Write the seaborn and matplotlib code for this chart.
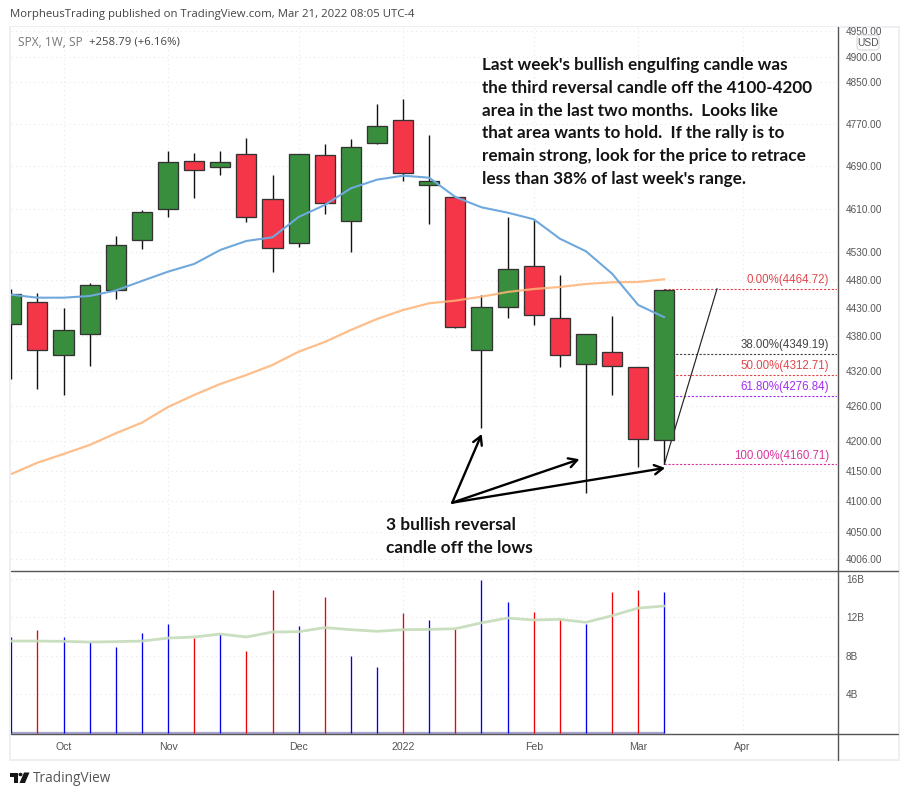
import matplotlib
matplotlib.use("Agg")
import matplotlib.pyplot as plt
import numpy as np
import pandas as pd
import seaborn as sns
from matplotlib.lines import Line2D
from matplotlib.patches import Rectangle, Polygon, Circle, FancyBboxPatch

# ---- data ----
weeks = list(range(26))
opens = [4401.3, 4440.3, 4346.9, 4383.6, 4461.7, 4552.1, 4609.1, 4700.0, 4687.5, 4712.0, 4627.7, 4546.7, 4710.1,
         4587.0, 4732.8, 4776.7, 4653.7, 4631.4, 4355.6, 4431.4, 4505.0, 4411.8, 4331.2, 4352.1, 4326.0, 4201.1]
closes = [4454.6, 4355.6, 4390.7, 4470.7, 4543.0, 4603.6, 4696.8, 4681.8, 4696.8, 4594.3, 4537.6, 4712.0, 4620.2,
          4725.2, 4765.2, 4676.2, 4661.2, 4396.0, 4431.4, 4499.5, 4417.2, 4346.9, 4383.6, 4327.7, 4202.8, 4461.7]
highs = [4464.0, 4456.4, 4430.2, 4474.3, 4560.0, 4607.8, 4718.2, 4714.5, 4718.2, 4742.9, 4673.0, 4712.5, 4731.5,
         4740.5, 4808.0, 4817.7, 4748.6, 4632.0, 4453.3, 4594.9, 4590.7, 4489.2, 4384.0, 4415.9, 4327.0, 4464.72]
lows = [4306.2, 4289.0, 4278.7, 4328.7, 4446.7, 4536.8, 4595.4, 4630.6, 4673.6, 4586.3, 4495.2, 4540.5, 4601.0,
        4531.4, 4732.0, 4661.8, 4582.6, 4395.0, 4222.4, 4412.9, 4400.6, 4327.0, 4113.7, 4278.7, 4156.8, 4160.71]
ma_short = [4453.8, 4448.5, 4448.5, 4451.5, 4461.4, 4478.4, 4495.2, 4509.1, 4534.5, 4550.9, 4557.6, 4594.9, 4617.1,
            4648.1, 4664.2, 4671.7, 4667.9, 4631.9, 4612.8, 4602.9, 4590.7, 4555.1, 4532.1, 4491.6, 4435.5, 4413.7]
ma_long = [4144.6, 4163.5, 4178.0, 4193.2, 4212.9, 4230.9, 4257.6, 4278.2, 4297.1, 4312.6, 4330.0, 4353.1, 4370.1,
           4391.2, 4410.6, 4426.6, 4438.5, 4443.2, 4450.3, 4458.7, 4464.0, 4467.6, 4473.0, 4476.1, 4476.6, 4481.5]
volumes = [9.95, 10.67, 9.95, 9.43, 8.91, 10.36, 11.30, 9.84, 10.26, 8.50, 14.82, 11.09, 14.09,
           7.98, 6.84, 12.44, 11.71, 10.78, 15.85, 13.58, 12.54, 11.81, 11.30, 14.61, 14.82, 14.61]
vol_dirs = ["b", "r", "b", "b", "b", "b", "b", "r", "b", "r", "r", "b", "r",
            "b", "b", "r", "b", "r", "b", "b", "r", "r", "b", "r", "r", "b"]
vol_ma = [9.53, 9.53, 9.50, 9.43, 9.47, 9.53, 9.84, 9.95, 10.26, 9.95, 10.47, 10.50, 10.92,
          10.71, 10.54, 10.71, 10.74, 10.81, 11.42, 11.92, 11.71, 11.78, 11.47, 12.16, 12.95, 13.16]
vol_floor = [0.05] * 26

price_ticks = [4950, 4900, 4850, 4770, 4690, 4610, 4530, 4480, 4430, 4380, 4320, 4260, 4200, 4150, 4100, 4050, 4006]
vol_ticks = [4, 8, 12, 16]
vol_tick_labels = ["4B", "8B", "12B", "16B"]
month_ticks = [2, 6, 11, 15, 20, 24, 28]
month_labels = ["Oct", "Nov", "Dec", "2022", "Feb", "Mar", "Apr"]

fib_levels = ["0.00%", "38.00%", "50.00%", "61.80%", "100.00%"]
fib_prices = [4464.72, 4349.19, 4312.71, 4276.84, 4160.71]
fib_colors = ["#e0474c", "#444444", "#e0474c", "#a32cf0", "#d9359b"]

trend_x = [25, 27.02]
trend_y = [4160.71, 4464.72]
arrow_origin = (16.88, 4097.2)
arrow_targets = [(18.01, 4211.7), (21.75, 4169.2), (25.03, 4154.7)]

note_lines = ["Last week's bullish engulfing candle was",
              "the third reversal candle off the 4100-4200",
              "area in the last two months.  Looks like",
              "that area wants to hold.  If the rally is to",
              "remain strong, look for the price to retrace",
              "less than 38% of last week's range."]
low_lines = ["3 bullish reversal", "candle off the lows"]

# ---- layout ----
W, H = 909, 795
sns.set_theme(style="white", rc={"font.family": "Liberation Sans"})
fig = plt.figure(figsize=(W / 100, H / 100), dpi=100, facecolor="white")


def box(x0, y0, x1, y1):
    return [x0 / W, 1 - y1 / H, (x1 - x0) / W, (y1 - y0) / H]


def fx(x):
    return x / W


def fy(y):
    return 1 - y / H


ax = fig.add_axes(box(11, 27, 837.5, 571))
vax = fig.add_axes(box(11, 571, 837.5, 734), sharex=ax)
XMIN, XMAX = -0.012, 31.63
GRID = dict(color="#e9e9ec", linestyle=(0, (1, 3)), linewidth=0.8)
GREEN, RED, EDGE = "#388e3c", "#f53648", "#333333"
TICK = "#555555"

frame = pd.DataFrame({"week": weeks, "short": ma_short, "long": ma_long, "vol": volumes,
                      "dir": vol_dirs, "volma": vol_ma, "floor": vol_floor})

# ---- price pane ----
ax.set_yscale("log")
ax.vlines(weeks, lows, highs, color="#111111", linewidth=1.0, zorder=2)
ax.plot(trend_x, trend_y, color="#222222", linewidth=0.85, zorder=2)
for w, o, c in zip(weeks, opens, closes):
    ax.bar(w, abs(c - o), bottom=min(o, c), width=0.77, color=GREEN if c >= o else RED,
           edgecolor=EDGE, linewidth=0.95, zorder=3)
sns.lineplot(data=frame, x="week", y="long", ax=ax, color="#fdb377", alpha=0.85, linewidth=1.6,
             errorbar=None, zorder=4)
sns.lineplot(data=frame, x="week", y="short", ax=ax, color="#6fa8dc", linewidth=1.5, errorbar=None, zorder=5)

for lab, price, col in zip(fib_levels, fib_prices, fib_colors):
    ax.hlines(price, 25, XMAX, color=col, linewidth=0.8, linestyle=(0, (2, 1.5)), zorder=1)
    ax.annotate(f"{lab}({price:.2f})", xy=(0.9897, price), xycoords=ax.get_yaxis_transform(),
                xytext=(0, 2.5), textcoords="offset pixels", ha="right", va="bottom",
                color=col, fontsize=8.3)

for target in arrow_targets:
    ax.annotate("", xy=target, xytext=arrow_origin,
                arrowprops=dict(arrowstyle="->,head_length=0.5,head_width=0.28", color="black",
                                lw=1.7, shrinkA=0, shrinkB=0), zorder=6)

ax.set_xlim(XMIN, XMAX)
ax.set_ylim(3986.4, 4958.9)
ax.set_yticks(price_ticks, [f"{v:.2f}" for v in price_ticks])
ax.yaxis.set_minor_locator(matplotlib.ticker.NullLocator())
ax.yaxis.tick_right()
ax.set_xticks(month_ticks)
ax.tick_params(axis="x", labelbottom=False, length=0)
ax.tick_params(axis="y", length=0, pad=6, labelsize=7.2, labelcolor=TICK)
ax.grid(True, **GRID)
ax.set_axisbelow(True)
ax.set_xlabel("")
ax.set_ylabel("")
for s in ax.spines.values():
    s.set_visible(False)

# ---- volume pane ----
sns.lineplot(data=frame, x="week", y="floor", ax=vax, color="#a9a7d2", linewidth=1.7, errorbar=None, zorder=1)
sns.barplot(data=frame, x="week", y="vol", hue="dir", palette={"b": "#0000ee", "r": "#f00000"},
            native_scale=True, dodge=False, width=0.0002, saturation=1, errorbar=None, legend=False,
            fill=False, linewidth=0.95, ax=vax, zorder=2)
sns.lineplot(data=frame, x="week", y="volma", ax=vax, color="#c5dcb8", alpha=0.9, linewidth=2.0, errorbar=None, zorder=3)
vax.set_xlim(XMIN, XMAX)
vax.set_ylim(-0.1, 16.79)
vax.set_yticks(vol_ticks, vol_tick_labels)
vax.yaxis.tick_right()
vax.set_xticks(month_ticks, month_labels)
vax.tick_params(axis="x", length=0, pad=6, labelsize=7.6, labelcolor=TICK)
vax.tick_params(axis="y", length=0, pad=6, labelsize=7.2, labelcolor=TICK)
vax.grid(True, **GRID)
vax.set_axisbelow(True)
vax.set_xlabel("")
vax.set_ylabel("")
for s in vax.spines.values():
    s.set_visible(False)

# ---- frame and separators ----
fig.add_artist(Rectangle((fx(10), fy(760)), (899 - 10) / W, (760 - 27) / H, transform=fig.transFigure,
                         fill=False, edgecolor="#eeeef5", linewidth=1.4, zorder=0))
for y in (571, 734):
    fig.add_artist(Line2D([fx(11), fx(898)], [fy(y), fy(y)], color="#555555", linewidth=1.0))
fig.add_artist(Line2D([fx(837.5), fx(837.5)], [fy(27), fy(760)], color="#555555", linewidth=1.0))

# ---- header and notes ----
fig.text(fx(10), fy(15), "MorpheusTrading published on TradingView.com, Mar 21, 2022 08:05 UTC-4",
         fontsize=8.2, color="#444444", va="center", family="Open Sans")
fig.text(fx(18), fy(42), "SPX, 1W, SP", fontsize=8.6, color="#777777", va="center", family="Open Sans")
fig.text(fx(89), fy(42), "+258.79 (+6.16%)", fontsize=8.2, color="#444444", va="center", family="Open Sans")

for k, line in enumerate(note_lines):
    fig.text(fx(482), fy(65 + 22.8 * k), line, fontsize=12.3, fontweight="bold", family="Lato",
             color="#141414", va="center")
for k, line in enumerate(low_lines):
    fig.text(fx(386), fy(525 + 23 * k), line, fontsize=12.4, fontweight="bold", family="Lato",
             color="#141414", va="center")

# USD badge
fig.add_artist(FancyBboxPatch((fx(857), fy(50)), 22 / W, 15 / H, transform=fig.transFigure,
                              boxstyle="round,pad=0,rounding_size=0.004", facecolor="white",
                              edgecolor="#d9d9e0", linewidth=0.8, zorder=5))
fig.text(fx(868), fy(42.5), "USD", fontsize=7.4, color=TICK, ha="center", va="center", zorder=6)

# TradingView logo
logo = "#161616"
fig.add_artist(Polygon([(fx(10), fy(772.5)), (fx(18), fy(772.5)), (fx(18), fy(783)), (fx(14), fy(783)),
                        (fx(14), fy(776.5)), (fx(10), fy(776.5))], transform=fig.transFigure,
                       facecolor=logo, edgecolor="none"))
fig.add_artist(Polygon([(fx(24), fy(772.5)), (fx(29.5), fy(772.5)), (fx(25), fy(783)), (fx(19.5), fy(783))],
                       transform=fig.transFigure, facecolor=logo, edgecolor="none"))
fig.add_artist(Circle((fx(20.5), fy(774.5)), 2.0 / W, transform=fig.transFigure, facecolor=logo, edgecolor="none"))
fig.text(fx(33), fy(778), "TradingView", fontsize=9.8, color="#555555", va="center", family="Open Sans")

fig.savefig("out.png", dpi=100, facecolor="white")
